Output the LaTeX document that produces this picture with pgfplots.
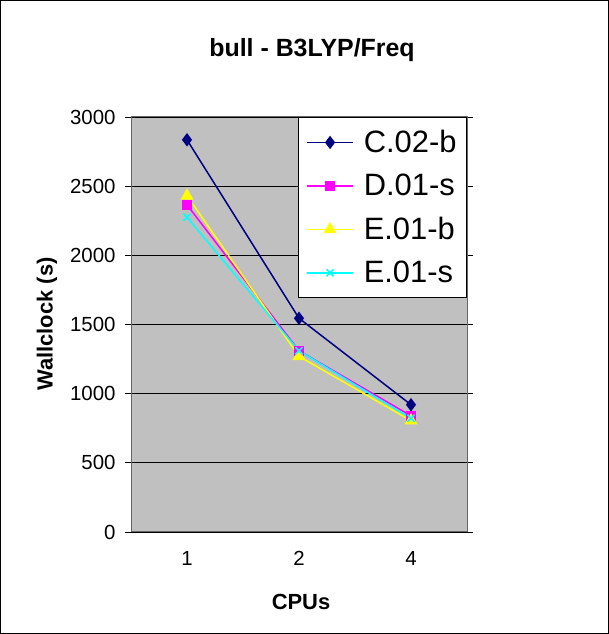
\documentclass[border=0pt]{standalone}
\usepackage{fontspec}
\setmainfont{Liberation Sans}
\usepackage{pgfplots}
\pgfplotsset{compat=1.18}
\definecolor{plotgray}{HTML}{C0C0C0}
\definecolor{navyc}{HTML}{000080}
\definecolor{magc}{HTML}{FF00FF}
\definecolor{yelc}{HTML}{FFFF00}
\definecolor{cyac}{HTML}{00FFFF}
\begin{document}
\begin{tikzpicture}
\useasboundingbox (0bp,0bp) rectangle (609bp,634bp);
\draw[black, line width=1bp] (0.5bp,0.5bp) rectangle (608.5bp,633.5bp);
\begin{axis}[
  at={(131bp,102bp)}, anchor=south west,
  scale only axis, width=336bp, height=415bp,
  xmin=-0.5, xmax=2.5, ymin=0, ymax=3000,
  axis background/.style={fill=plotgray},
  axis line style={draw=black!60, line width=1bp},
  xtick={0,1,2}, xticklabels={1,2,4},
  x tick style={draw=none},
  minor xtick={0.5,1.5},
  minor x tick style={black, line width=0.8bp},
  ytick={0,500,...,3000},
  y tick style={black, line width=0.8bp},
  tick align=outside, major tick length=6bp, minor tick length=6bp,
  ymajorgrids, major grid style={black, line width=0.8bp},
  /pgf/number format/assume math mode=true,
  /pgf/number format/1000 sep={},
  tick label style={font=\fontsize{20.5}{24}\selectfont},
  xticklabel style={yshift=-10bp},
  yticklabel style={xshift=-6bp},
  legend style={at={(1,1)}, anchor=north east, draw=black, fill=white,
    line width=1bp, font=\fontsize{31}{35}\selectfont, row sep=16bp,
    inner xsep=8bp, inner ysep=11bp},
  legend cell align=left,
  legend image code/.code={\draw[mark repeat=2,mark phase=2,#1] plot coordinates {(0bp,0bp) (23bp,0bp) (46bp,0bp)}; \path (54bp,0bp);},
  clip=false,
]
\addplot[navyc, line width=1.5bp, mark=diamond*, mark size=5.5bp, mark options={solid, fill=navyc}] coordinates {(0,2835) (1,1545) (2,920)};
\addlegendentry{C.02-b}
\addplot[magc, line width=1.5bp, mark=square*, mark size=4bp, mark options={solid, fill=magc}] coordinates {(0,2365) (1,1310) (2,840)};
\addlegendentry{D.01-s}
\addplot[yelc, line width=1.5bp, mark=triangle*, mark size=6bp, mark options={solid, fill=yelc}] coordinates {(0,2430) (1,1270) (2,805)};
\addlegendentry{E.01-b}
\addplot[cyac, line width=1.5bp, mark=x, mark size=5bp, mark options={solid}] coordinates {(0,2275) (1,1310) (2,822)};
\addlegendentry{E.01-s}
\end{axis}
\node[font=\bfseries\fontsize{25}{29}\selectfont] at (312bp,584bp) {bull - B3LYP/Freq};
\node[font=\bfseries\fontsize{22}{26}\selectfont, rotate=90] at (47bp,310bp) {Wallclock (s)};
\node[font=\bfseries\fontsize{22}{26}\selectfont] at (301bp,32bp) {CPUs};
\end{tikzpicture}
\end{document}
